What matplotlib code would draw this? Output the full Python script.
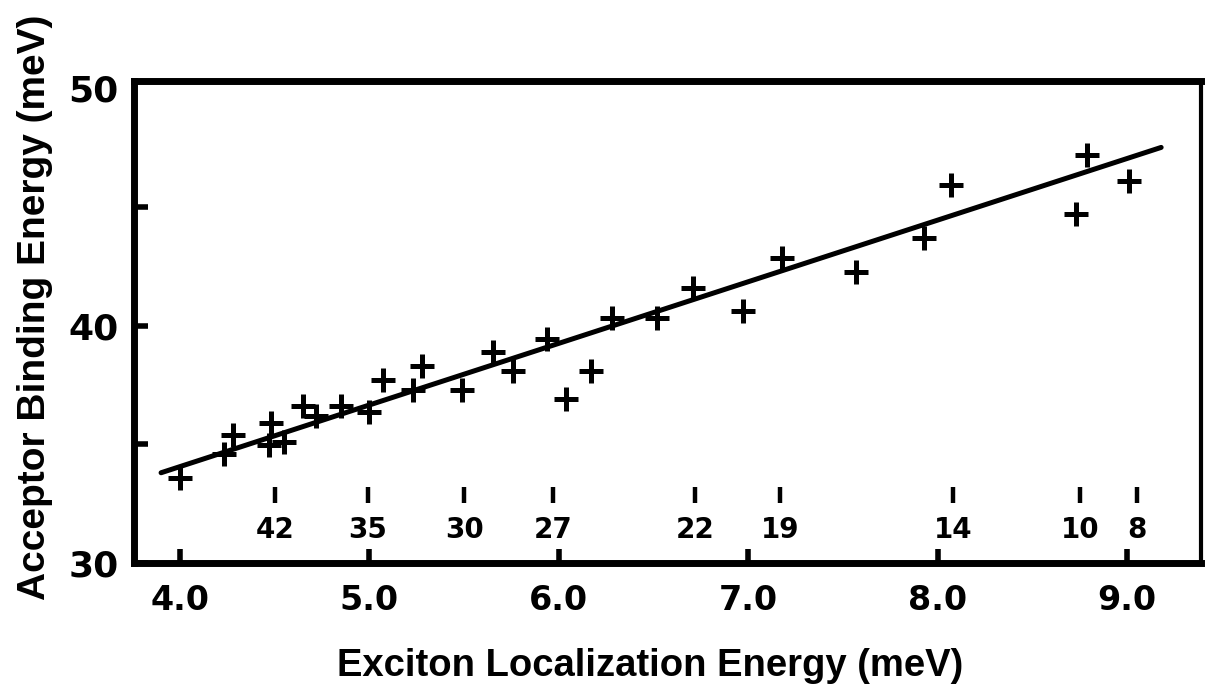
import matplotlib
matplotlib.use("Agg")
import matplotlib.pyplot as plt
from matplotlib.ticker import FixedLocator, NullFormatter
import numpy as np

# ---- data ----
exciton_energy = [4.00, 4.23, 4.28, 4.48, 4.47, 4.55, 4.65, 4.72, 4.85, 5.00,
                  5.07, 5.23, 5.28, 5.49, 5.65, 5.76, 5.94, 6.04, 6.17, 6.28,
                  6.52, 6.71, 6.97, 7.18, 7.57, 7.93, 8.07, 8.73, 8.79, 9.01]
binding_energy = [33.6, 34.6, 35.4, 35.9, 34.95, 35.1, 36.6, 36.2, 36.6, 36.35,
                  37.7, 37.3, 38.3, 37.3, 38.9, 38.1, 39.45, 36.9, 38.1, 40.3,
                  40.3, 41.6, 40.6, 42.85, 42.27, 43.67, 45.9, 44.7, 47.2, 46.1]

fit_slope = 2.595
fit_intercept = 23.68
fit_x_range = [3.90, 9.18]

marker_x = [4.50, 4.99, 5.50, 5.97, 6.72, 7.17, 8.08, 8.75, 9.05]
marker_labels = ["42", "35", "30", "27", "22", "19", "14", "10", "8"]

x_ticks = [4.0, 5.0, 6.0, 7.0, 8.0, 9.0]
x_tick_labels = ["4.0", "5.0", "6.0", "7.0", "8.0", "9.0"]
y_major_ticks = [30, 40, 50]
y_major_labels = ["30", "40", "50"]
y_minor_ticks = [35, 45]

x_label = "Exciton Localization Energy (meV)"
y_label = "Acceptor Binding Energy (meV)"

# ---- figure ----
fig = plt.figure(figsize=(12.06, 6.88), dpi=100)
fig.patch.set_facecolor("white")
ax = fig.add_axes([0.1111, 0.1817, 0.8847, 0.7006])

ax.plot(exciton_energy, binding_energy, linestyle="none", marker="+",
        markersize=17, markeredgewidth=3.6, color="black")

fx = np.array(fit_x_range)
ax.plot(fx, fit_intercept + fit_slope * fx, color="black", lw=3.6,
        solid_capstyle="round")

ax.set_xlim(3.757, 9.39)
ax.set_ylim(30, 50.3)

# top-side markers with numbers
trans = ax.get_xaxis_transform()
for xv, lab in zip(marker_x, marker_labels):
    ax.plot([xv, xv], [0.124, 0.157], transform=trans, color="black",
            lw=3.2, solid_capstyle="butt", clip_on=False)
    ax.text(xv, 0.068, lab, transform=trans, ha="center", va="center",
            fontsize=20, fontweight="bold", family="DejaVu Sans")

# spines
for side in ["left", "bottom", "top"]:
    ax.spines[side].set_linewidth(5)
ax.spines["right"].set_linewidth(3)

# ticks
ax.set_xticks(x_ticks)
ax.set_xticklabels(x_tick_labels)
ax.yaxis.set_major_locator(FixedLocator(y_major_ticks))
ax.set_yticklabels(y_major_labels)
ax.yaxis.set_minor_locator(FixedLocator(y_minor_ticks))
ax.yaxis.set_minor_formatter(NullFormatter())
ax.tick_params(axis="both", which="both", direction="in", length=10, width=4,
               top=False, right=False)
ax.tick_params(axis="x", pad=15)
ax.tick_params(axis="y", pad=11)
for t in ax.get_xticklabels():
    t.set_fontfamily("DejaVu Sans")
    t.set_fontweight("bold")
    t.set_fontsize(24)
for t in ax.get_yticklabels():
    t.set_fontfamily("DejaVu Sans")
    t.set_fontweight("bold")
    t.set_fontsize(26)
# the 50 tick sits on the top frame in the reference
ax.yaxis.get_major_ticks()[2].tick1line.set_visible(False)

ax.set_xlabel(x_label, fontsize=27.5, fontweight="bold", family="Liberation Sans")
ax.xaxis.set_label_coords(0.484, -0.177)
ax.set_ylabel(y_label, fontsize=28, fontweight="bold", family="Liberation Sans")
ax.yaxis.set_label_coords(-0.076, 0.53)

fig.savefig("out.png", dpi=100, facecolor="white")
